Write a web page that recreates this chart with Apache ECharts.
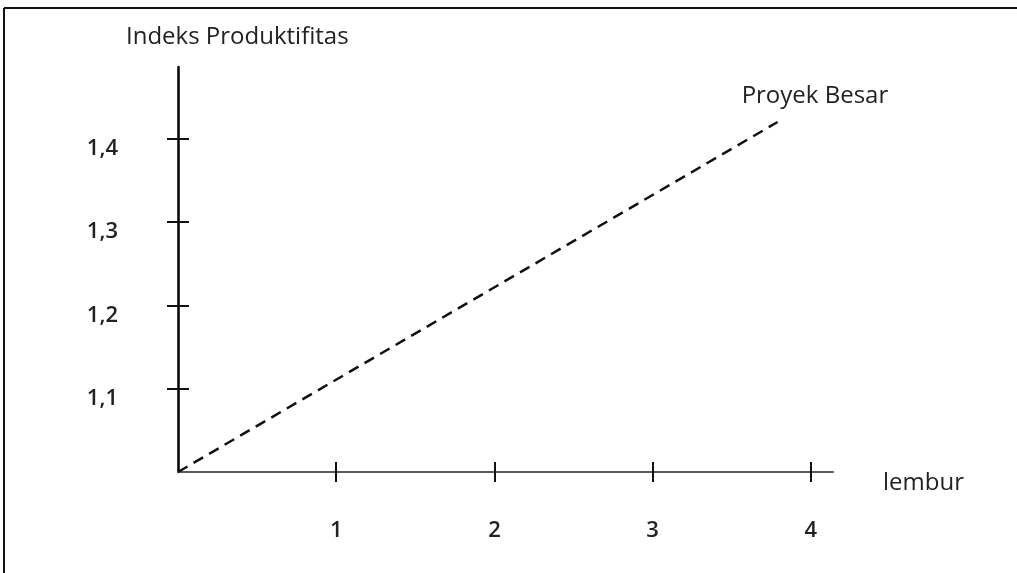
<!DOCTYPE html>
<html>
<head>
<meta charset="utf-8">
<script src="https://cdn.jsdelivr.net/npm/echarts@6/dist/echarts.min.js"></script>
<style>html,body{margin:0;padding:0;background:#fff}#c{width:1017px;height:573px}</style>
</head>
<body>
<div id="c"></div>
<script>
// Data
const xTicks = [1, 2, 3, 4];
const xTickLabels = ['1', '2', '3', '4'];
const yTicks = [1.1, 1.2, 1.3, 1.4];
const yTickLabels = ['1,1', '1,2', '1,3', '1,4'];
const lineX = [0, 3.79];
const lineY = [1.0, 1.42];
const seriesName = 'Proyek Besar';
const xName = 'lembur';
const yName = 'Indeks Produktifitas';

const xMin = 0, xMax = 4.14;
const yMin = 1.0, yMax = 1.486;

const font = '"Open Sans", "DejaVu Sans", sans-serif';

const chart = echarts.init(document.getElementById('c'), null, {renderer: 'canvas'});

function xAxisBase(extra) {
  return Object.assign({
    type: 'value', min: xMin, max: xMax, position: 'bottom',
    splitLine: {show: false}
  }, extra);
}
function yAxisBase(extra) {
  return Object.assign({
    type: 'value', min: yMin, max: yMax, position: 'left',
    splitLine: {show: false}
  }, extra);
}

chart.setOption({
  animation: false,
  backgroundColor: '#fff',
  grid: {left: 178, right: 184, top: 67, bottom: 101},
  xAxis: [
    xAxisBase({
      name: xName, nameLocation: 'end', nameGap: 50,
      nameTextStyle: {fontFamily: font, fontSize: 24, color: '#222', verticalAlign: 'top', lineHeight: 22},
      axisLine: {show: true, lineStyle: {color: '#5a5a5a', width: 2}},
      axisTick: {show: true, inside: false, length: 10, customValues: xTicks, lineStyle: {color: '#111', width: 2}},
      axisLabel: {show: true, customValues: xTicks, margin: 48, fontFamily: font, fontSize: 22, fontWeight: 600, color: '#222',
        formatter: v => xTickLabels[xTicks.indexOf(v)]}
    }),
    xAxisBase({
      axisLine: {show: false},
      axisTick: {show: true, inside: true, length: 10, customValues: xTicks, lineStyle: {color: '#111', width: 2}},
      axisLabel: {show: false}
    })
  ],
  yAxis: [
    yAxisBase({
      axisLine: {show: true, lineStyle: {color: '#000', width: 2.5}},
      axisTick: {show: true, inside: false, length: 11, customValues: yTicks, lineStyle: {color: '#111', width: 2}},
      axisLabel: {show: true, customValues: yTicks, margin: 60, fontFamily: font, fontSize: 22, fontWeight: 600, color: '#222',
        verticalAlign: 'top', lineHeight: 20,
        formatter: v => yTickLabels[yTicks.findIndex(t => Math.abs(t - v) < 1e-6)]}
    }),
    yAxisBase({
      axisLine: {show: false},
      axisTick: {show: true, inside: true, length: 11, customValues: yTicks, lineStyle: {color: '#111', width: 2}},
      axisLabel: {show: false}
    })
  ],
  graphic: [
    {type: 'line', shape: {x1: 4, y1: 8, x2: 1017, y2: 8}, style: {stroke: '#111', lineWidth: 2}},
    {type: 'line', shape: {x1: 4, y1: 8, x2: 4, y2: 573}, style: {stroke: '#111', lineWidth: 2}},
    {type: 'text', left: 126, top: 25, style: {text: yName, font: '24px ' + font, fill: '#222'}}
  ],
  series: [{
    name: seriesName,
    type: 'line',
    xAxisIndex: 0, yAxisIndex: 0,
    data: lineX.map((x, i) => [x, lineY[i]]),
    showSymbol: false,
    symbol: 'none',
    lineStyle: {color: '#111', width: 2.5, type: [11, 7]},
    endLabel: {show: true, formatter: seriesName, offset: [-44, -26], fontFamily: font, fontSize: 24, color: '#222'}
  }]
});
</script>
</body>
</html>
